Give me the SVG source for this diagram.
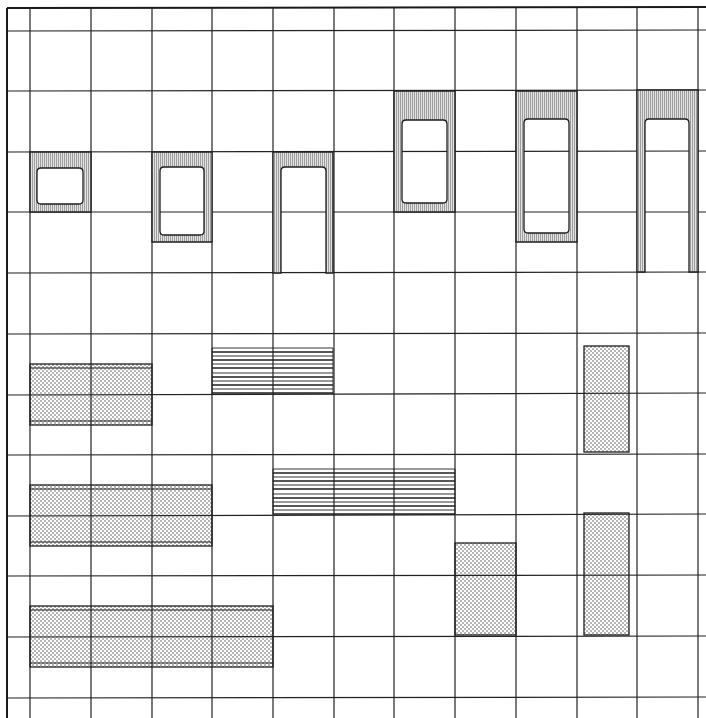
<svg xmlns="http://www.w3.org/2000/svg" width="706" height="718" viewBox="0 0 706 718">
<style>
.grid{stroke:#222222;stroke-width:1.2;fill:none}
.border{stroke:#1a1a1a;stroke-width:2;fill:none}
.frame{fill:url(#hatch);stroke:#1e1e1e;stroke-width:1.3;fill-rule:evenodd}
.dot{fill:url(#dots);stroke:#1e1e1e;stroke-width:1.3}
.edge{stroke:#1e1e1e;stroke-width:1.2}
.ln{stroke:#1e1e1e;fill:none}
.thick{stroke-width:1.6}
.thin{stroke-width:0.9}
</style>
<defs>
<pattern id="hatch" width="2" height="8" patternUnits="userSpaceOnUse">
<rect width="2" height="8" fill="#e4e4e4"/>
<line x1="0.5" y1="0" x2="0.5" y2="8" stroke="#8a8a8a" stroke-width="0.8"/>
</pattern>
<pattern id="dots" width="4" height="4" patternUnits="userSpaceOnUse">
<circle cx="1" cy="1" r="0.7" fill="#333333"/>
<circle cx="3" cy="3" r="0.7" fill="#333333"/>
</pattern>
</defs>
<rect width="706" height="718" fill="#ffffff"/>
<g id="grid">
<line class="border" x1="7" y1="8" x2="7" y2="718"/>
<line class="border" x1="7" y1="8" x2="706" y2="7"/>
<g class="grid">
<line x1="30" y1="8" x2="30" y2="718"/>
<line x1="91" y1="8" x2="91" y2="718"/>
<line x1="152" y1="8" x2="152" y2="718"/>
<line x1="212" y1="8" x2="212" y2="718"/>
<line x1="273" y1="8" x2="273" y2="718"/>
<line x1="334" y1="8" x2="334" y2="718"/>
<line x1="394" y1="8" x2="394" y2="718"/>
<line x1="455" y1="8" x2="455" y2="718"/>
<line x1="516" y1="8" x2="516" y2="718"/>
<line x1="577" y1="8" x2="577" y2="718"/>
<line x1="637" y1="7" x2="637" y2="718"/>
<line x1="698" y1="7" x2="698" y2="718"/>
<line x1="7" y1="31" x2="706" y2="30"/>
<line x1="7" y1="91" x2="706" y2="90"/>
<line x1="7" y1="152" x2="706" y2="151"/>
<line x1="7" y1="212" x2="706" y2="212"/>
<line x1="7" y1="273" x2="706" y2="272"/>
<line x1="7" y1="334" x2="706" y2="333"/>
<line x1="7" y1="395" x2="706" y2="393"/>
<line x1="7" y1="455" x2="706" y2="454"/>
<line x1="7" y1="516" x2="706" y2="514"/>
<line x1="7" y1="576" x2="706" y2="575"/>
<line x1="7" y1="637" x2="706" y2="636"/>
<line x1="7" y1="698" x2="706" y2="697"/>
</g>
</g>
<g id="frame1">
<path class="frame" d="M30,152 H91 V212 H30 Z M41,168 Q37,168 37,172 V200 Q37,204 41,204 H79 Q83,204 83,200 V172 Q83,168 79,168 Z"/>
</g>
<g id="frame2">
<path class="frame" d="M152,152 H212 V242 H152 Z M164,167 Q160,167 160,171 V231 Q160,235 164,235 H200 Q204,235 204,231 V171 Q204,167 200,167 Z"/>
</g>
<g id="frame3">
<path class="frame" d="M273,152 H333 V273 H326 V171 Q326,167 322,167 H285 Q281,167 281,171 V273 H273 Z"/>
</g>
<g id="frame4">
<path class="frame" d="M394,91 H455 V212 H394 Z M406,120 Q402,120 402,124 V199 Q402,203 406,203 H443 Q447,203 447,199 V124 Q447,120 443,120 Z"/>
</g>
<g id="frame5">
<path class="frame" d="M516,91 H577 V242 H516 Z M528,119 Q524,119 524,123 V229 Q524,233 528,233 H565 Q569,233 569,229 V123 Q569,119 565,119 Z"/>
</g>
<g id="frame6">
<path class="frame" d="M637,90 H698 V272 H689 V123 Q689,119 685,119 H649 Q645,119 645,123 V272 H637 Z"/>
</g>
<g id="slab1">
<rect class="dot" x="30" y="364" width="122" height="61"/>
<line class="edge" x1="30" y1="368" x2="152" y2="368"/>
<line class="edge" x1="30" y1="421" x2="152" y2="421"/>
</g>
<g id="slab2">
<rect class="dot" x="30" y="485" width="182" height="61"/>
<line class="edge" x1="30" y1="489" x2="212" y2="489"/>
<line class="edge" x1="30" y1="542" x2="212" y2="542"/>
</g>
<g id="slab3">
<rect class="dot" x="30" y="606" width="243" height="61"/>
<line class="edge" x1="30" y1="610" x2="273" y2="610"/>
<line class="edge" x1="30" y1="663" x2="273" y2="663"/>
</g>
<g id="stack1">
<g class="ln">
<line class="thin" x1="212" y1="348" x2="212" y2="394"/>
<line class="thin" x1="333" y1="348" x2="333" y2="394"/>
<line class="thin" x1="212" y1="348" x2="333" y2="348"/>
<line class="thick" x1="212" y1="352" x2="333" y2="352"/>
<line class="thin" x1="212" y1="356" x2="333" y2="356"/>
<line class="thick" x1="212" y1="360" x2="333" y2="360"/>
<line class="thin" x1="212" y1="364" x2="333" y2="364"/>
<line class="thick" x1="212" y1="368" x2="333" y2="368"/>
<line class="thin" x1="212" y1="373" x2="333" y2="373"/>
<line class="thick" x1="212" y1="377" x2="333" y2="377"/>
<line class="thin" x1="212" y1="381" x2="333" y2="381"/>
<line class="thick" x1="212" y1="385" x2="333" y2="385"/>
<line class="thin" x1="212" y1="389" x2="333" y2="389"/>
<line class="thick" x1="212" y1="393" x2="333" y2="393"/>
</g>
</g>
<g id="stack2">
<g class="ln">
<line class="thin" x1="273" y1="469" x2="273" y2="514"/>
<line class="thin" x1="455" y1="469" x2="455" y2="514"/>
<line class="thin" x1="273" y1="469" x2="455" y2="469"/>
<line class="thick" x1="273" y1="473" x2="455" y2="473"/>
<line class="thin" x1="273" y1="477" x2="455" y2="477"/>
<line class="thick" x1="273" y1="481" x2="455" y2="481"/>
<line class="thin" x1="273" y1="485" x2="455" y2="485"/>
<line class="thick" x1="273" y1="489" x2="455" y2="489"/>
<line class="thin" x1="273" y1="494" x2="455" y2="494"/>
<line class="thick" x1="273" y1="498" x2="455" y2="498"/>
<line class="thin" x1="273" y1="502" x2="455" y2="502"/>
<line class="thick" x1="273" y1="506" x2="455" y2="506"/>
<line class="thin" x1="273" y1="510" x2="455" y2="510"/>
<line class="thick" x1="273" y1="514" x2="455" y2="514"/>
</g>
</g>
<g id="column1">
<rect class="dot" x="584" y="346" width="45" height="106"/>
</g>
<g id="block1">
<rect class="dot" x="455" y="543" width="61" height="92"/>
</g>
<g id="column2">
<rect class="dot" x="584" y="513" width="45" height="122"/>
</g>
</svg>
